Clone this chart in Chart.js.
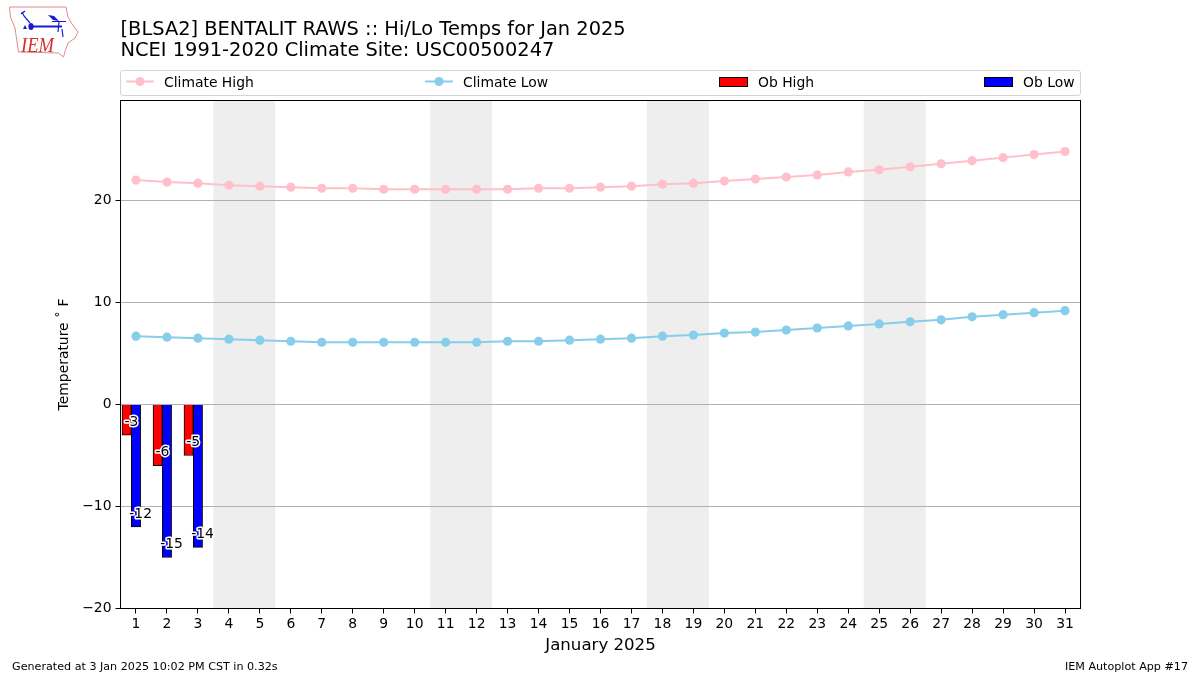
<!DOCTYPE html>
<html>
<head>
<meta charset="utf-8">
<title>Hi/Lo Temps</title>
<script src="https://cdn.jsdelivr.net/npm/chart.js@4/dist/chart.umd.min.js"></script>
<style>
  html, body { margin: 0; padding: 0; background: #fff; }
  body { width: 1200px; height: 675px; position: relative; overflow: hidden; font-family: "DejaVu Sans", sans-serif; color: #000; }
  canvas { position: absolute; left: 0; top: 0; }
  #logo { position: absolute; left: 0; top: 0; }
  #legend { position: absolute; left: 120px; top: 70px; width: 959px; height: 24px; border: 1px solid #d4d4d4; border-radius: 3px; }
  .item { position: absolute; top: 0; height: 24px; line-height: 22px; font-size: 13.9px; white-space: nowrap; }
  .item svg { position: absolute; left: 0; top: 0; }
  .item span { position: absolute; left: 39px; }
  .item.box span { left: 40px; }
  .foot { position: absolute; top: 660px; font-size: 11.15px; line-height: 14px; white-space: nowrap; }
</style>
</head>
<body>
<canvas id="chart" width="1200" height="675"></canvas>

<svg id="logo" width="90" height="62" viewBox="0 0 90 62">
  <path d="M9.5 7 L66 7 L68 17 L72 24 L78 32 L75 38 L68 43 L65.5 50 L63.5 57 L58.5 53 L18.5 52 L15 28 L10.5 17 Z" fill="none" stroke="#e08a8a" stroke-width="1"/>
  <path d="M31 26.5 L62 26.5" stroke="#1a1ad0" stroke-width="2" fill="none"/>
  <path d="M52 21.5 L66 21.5 M59 22 L58 32 M62 29 L63 37 M22 12 L24 16 L30 23 M21 14 L25 11" stroke="#1a1ad0" stroke-width="1.2" fill="none"/>
  <ellipse cx="31" cy="26.5" rx="2.6" ry="3.6" fill="#1a1ad0"/>
  <path d="M48 15 L54 16 L59 21 L53 20 Z" fill="#1a1ad0"/>
  <path d="M25 25 L27 29 L23 29 Z" fill="#1a1ad0"/>
  <text x="21" y="52" font-family="Liberation Serif" font-style="italic" font-size="22" textLength="33" lengthAdjust="spacingAndGlyphs" fill="#d43030">IEM</text>
</svg>

<div id="legend"></div>
<div class="foot" style="left:12px">Generated at 3 Jan 2025 10:02 PM CST in 0.32s</div>
<div class="foot" style="right:12px">IEM Autoplot App #17</div>

<script>
// values
const days = [1,2,3,4,5,6,7,8,9,10,11,12,13,14,15,16,17,18,19,20,21,22,23,24,25,26,27,28,29,30,31];
const climateHigh = [22.0,21.8,21.7,21.5,21.4,21.3,21.2,21.2,21.1,21.1,21.1,21.1,21.1,21.2,21.2,21.3,21.4,21.6,21.7,21.9,22.1,22.3,22.5,22.8,23.0,23.3,23.6,23.9,24.2,24.5,24.8];
const climateLow = [6.7,6.6,6.5,6.4,6.3,6.2,6.1,6.1,6.1,6.1,6.1,6.1,6.2,6.2,6.3,6.4,6.5,6.7,6.8,7.0,7.1,7.3,7.5,7.7,7.9,8.1,8.3,8.6,8.8,9.0,9.2];
const obDays = [1,2,3];
const obHigh = [-3,-6,-5];
const obLow = [-12,-15,-14];
const weekendStarts = [4,11,18,25]; // Sat of each weekend, shaded through Sun

const FONT = '"DejaVu Sans", sans-serif';

// 1. Weekend shading, under the grid
const weekendBands = {
    id: 'weekendBands',
    beforeDraw(chart) {
        const { ctx, chartArea: a, scales: { x } } = chart;
        ctx.save();
        ctx.fillStyle = '#eeeeee';
        weekendStarts.forEach(d => {
            const x0 = x.getPixelForValue(d - 0.5);
            const x1 = x.getPixelForValue(d + 1.5);
            ctx.fillRect(x0, a.top, x1 - x0, a.bottom - a.top);
        });
        ctx.restore();
    }
};

// 2. Frame and bar labels with the white halo
const frameAndLabels = {
    id: 'frameAndLabels',
    afterDatasetsDraw(chart) {
        const { ctx, chartArea: a, scales: { x, y } } = chart;
        ctx.save();
        ctx.strokeStyle = '#000';
        ctx.lineWidth = 1;
        const l = Math.floor(a.left) + 0.5, t = Math.floor(a.top) + 0.5;
        const r = Math.floor(a.right) + 0.5, b = Math.floor(a.bottom) + 0.5;
        ctx.strokeRect(l, t, r - l, b - t);

        ctx.font = '13.9px ' + FONT;
        ctx.textAlign = 'center';
        ctx.textBaseline = 'middle';
        ctx.lineJoin = 'round';
        const label = (val, px) => {
            const py = y.getPixelForValue(val) - 13;
            ctx.strokeStyle = '#fff';
            ctx.lineWidth = 3;
            ctx.strokeText(String(val), px, py);
            ctx.fillStyle = '#000';
            ctx.fillText(String(val), px, py);
        };
        obDays.forEach((d, i) => {
            label(obHigh[i], x.getPixelForValue(d - 0.15));
            label(obLow[i], x.getPixelForValue(d + 0.15));
        });
        ctx.restore();
    }
};

const chart = new Chart(document.getElementById('chart'), {
    data: {
        datasets: [
            {
                type: 'line', label: 'Climate High', order: 1,
                data: days.map((d, i) => ({ x: d, y: climateHigh[i] })),
                borderColor: '#ffc0cb', backgroundColor: '#ffc0cb',
                borderWidth: 2, pointRadius: 4.6, pointBorderWidth: 0, tension: 0
            },
            {
                type: 'line', label: 'Climate Low', order: 1,
                data: days.map((d, i) => ({ x: d, y: climateLow[i] })),
                borderColor: '#87ceeb', backgroundColor: '#87ceeb',
                borderWidth: 2, pointRadius: 4.6, pointBorderWidth: 0, tension: 0
            },
            {
                type: 'bar', label: 'Ob High', order: 2, grouped: false,
                data: obDays.map((d, i) => ({ x: d - 0.3, y: obHigh[i] })),
                backgroundColor: '#ff0000', borderColor: '#000', borderWidth: 1, barThickness: 9.3
            },
            {
                type: 'bar', label: 'Ob Low', order: 2, grouped: false,
                data: obDays.map((d, i) => ({ x: d, y: obLow[i] })),
                backgroundColor: '#0000ff', borderColor: '#000', borderWidth: 1, barThickness: 9.3
            }
        ]
    },
    options: {
        responsive: false,
        animation: false,
        devicePixelRatio: 1,
        layout: { padding: { left: 56.5, right: 119.5, top: 19, bottom: 19.5 } },
        plugins: {
            legend: { display: false },
            tooltip: { enabled: false },
            title: {
                display: true,
                align: 'start',
                fullSize: false,
                color: '#000',
                text: ['[BLSA2] BENTALIT RAWS :: Hi/Lo Temps for Jan 2025', 'NCEI 1991-2020 Climate Site: USC00500247'],
                font: { family: FONT, size: 19.42, weight: 'normal', lineHeight: 1.1 },
                padding: { top: 0, bottom: 38.78 }
            }
        },
        scales: {
            x: {
                type: 'linear',
                min: 0.5,
                max: 31.5,
                offset: false,
                afterFit(s) { s.height = 47; },
                afterBuildTicks(s) { s.ticks = days.map(d => ({ value: d })); },
                grid: { offset: false, drawOnChartArea: false, tickColor: '#000', tickLength: 5 },
                border: { color: '#000' },
                ticks: {
                    autoSkip: false, maxRotation: 0,
                    color: '#000', padding: 3,
                    font: { family: FONT, size: 13.9 },
                    callback: v => String(v)
                },
                title: {
                    display: true, text: 'January 2025', color: '#000',
                    font: { family: FONT, size: 16.6 }, padding: 0
                }
            },
            y: {
                min: -20,
                max: 29.8,
                afterFit(s) { s.width = 64; },
                grid: { color: '#b0b0b0', lineWidth: 1, tickColor: '#000', tickLength: 5 },
                border: { color: '#000' },
                ticks: {
                    stepSize: 10, includeBounds: false, color: '#000', padding: 4,
                    font: { family: FONT, size: 13.9 },
                    callback: v => String(v).replace('-', '\u2212')
                },
                title: {
                    display: true, text: 'Temperature \u02da F', color: '#000',
                    font: { family: FONT, size: 13.9 }, padding: 0
                }
            }
        }
    },
    plugins: [weekendBands, frameAndLabels]
});

// 3. Legend row laid out like the expanded one in the reference
const legendLeft = [4, 303, 597, 862];
const legend = document.getElementById('legend');
chart.data.datasets.forEach((ds, i) => {
    const item = document.createElement('div');
    item.className = ds.type === 'line' ? 'item' : 'item box';
    item.style.left = legendLeft[i] + 'px';
    const handle = ds.type === 'line'
        ? `<line x1="1" y1="10.5" x2="29" y2="10.5" stroke="${ds.borderColor}" stroke-width="2"/><circle cx="15" cy="10.5" r="4.6" fill="${ds.borderColor}"/>`
        : `<rect x="1.5" y="6.5" width="28" height="9" fill="${ds.backgroundColor}" stroke="#000" stroke-width="1"/>`;
    item.innerHTML = `<svg width="32" height="24">${handle}</svg><span>${ds.label}</span>`;
    legend.appendChild(item);
});
</script>
</body>
</html>
